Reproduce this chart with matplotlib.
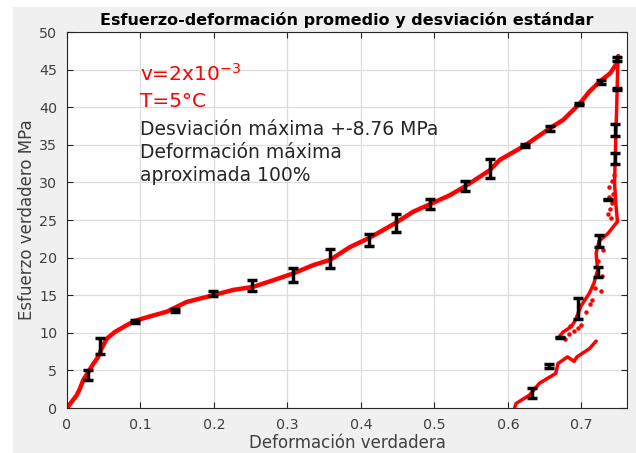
import matplotlib
matplotlib.use('Agg')
import matplotlib.pyplot as plt
from matplotlib.patches import Rectangle

plt.rcParams['font.family'] = ['DejaVu Sans']
plt.rcParams['mathtext.default'] = 'regular'

# curva promedio de carga
carga_x = [0.0, 0.0132, 0.0177, 0.022, 0.029, 0.036, 0.0425, 0.047, 0.054, 0.065,
           0.081, 0.0925, 0.11, 0.1355, 0.1627, 0.199, 0.226, 0.253, 0.281, 0.308,
           0.335, 0.358, 0.385, 0.411, 0.447, 0.471, 0.494, 0.521, 0.542, 0.575,
           0.589, 0.623, 0.657, 0.675, 0.697, 0.711, 0.726, 0.739, 0.748, 0.750]
carga_y = [0.0, 1.7, 2.6, 3.7, 4.8, 5.9, 6.8, 7.9, 9.2, 10.1,
           11.0, 11.6, 12.1, 12.8, 14.1, 15.0, 15.7, 16.1, 17.0, 17.9,
           19.0, 19.7, 21.4, 22.6, 24.6, 26.1, 27.1, 28.3, 29.5, 31.6,
           33.0, 34.9, 37.2, 38.3, 40.4, 42.1, 43.5, 44.5, 45.8, 46.8]

# descarga, primer tramo
desc_x = [0.750, 0.749, 0.748, 0.747, 0.746, 0.745, 0.747, 0.749, 0.736, 0.724,
          0.720, 0.722, 0.717, 0.711, 0.699, 0.692, 0.686, 0.675, 0.670]
desc_y = [46.8, 44.0, 40.0, 37.0, 33.2, 30.0, 27.0, 24.8, 23.2, 22.2,
          20.6, 18.3, 16.6, 15.3, 13.5, 11.7, 10.8, 10.1, 9.5]

# descarga, segundo tramo
desc2_x = [0.720, 0.711, 0.694, 0.690, 0.681, 0.668, 0.665, 0.643, 0.629, 0.611, 0.609]
desc2_y = [8.9, 7.9, 6.8, 6.2, 6.8, 5.9, 4.6, 3.3, 1.7, 0.6, 0.0]

# puntos dispersos
disp_x = [0.736, 0.739, 0.741, 0.743, 0.738, 0.742, 0.744, 0.737, 0.740,
          0.728, 0.726, 0.715, 0.718, 0.712, 0.706, 0.700, 0.696, 0.694,
          0.690, 0.683, 0.678, 0.684, 0.722, 0.729]
disp_y = [25.8, 26.5, 27.3, 28.5, 29.4, 30.2, 31.0, 28.0, 25.2,
          17.5, 15.6, 14.4, 16.0, 13.8, 12.8, 11.0, 10.6, 12.3,
          10.2, 9.8, 9.2, 10.9, 19.5, 21.0]

# barras de error
eb_x = [0.029, 0.045, 0.0925, 0.147, 0.199, 0.252, 0.307, 0.358, 0.411, 0.447,
        0.494, 0.542, 0.575, 0.623, 0.657, 0.697, 0.726, 0.749, 0.748, 0.746,
        0.746, 0.736, 0.724, 0.722, 0.696, 0.671, 0.656, 0.633]
eb_y = [4.4, 8.2, 11.5, 13.0, 15.2, 16.3, 17.7, 19.9, 22.4, 24.6,
        27.1, 29.5, 31.9, 34.9, 37.2, 40.4, 43.4, 46.4, 42.4, 37.0,
        33.2, 27.7, 22.2, 18.1, 13.2, 9.4, 5.6, 1.95]
eb_err = [0.7, 1.05, 0.15, 0.2, 0.3, 0.75, 0.95, 1.3, 0.8, 1.15,
          0.7, 0.65, 1.25, 0.2, 0.3, 0.15, 0.25, 0.3, 0.1, 0.8,
          0.7, 0.1, 0.8, 0.7, 1.4, 0.1, 0.3, 0.65]

fig = plt.figure(figsize=(6.36, 4.53), dpi=100, facecolor='white')
fondo = Rectangle((13 / 636, 0), 1, 446 / 453, transform=fig.transFigure,
                  facecolor='#f0f0f0', edgecolor='none', zorder=-10)
fig.add_artist(fondo)

ax = fig.add_axes([67 / 636, 45 / 453, 560 / 636, 376 / 453])
ax.set_facecolor('white')

ax.plot(carga_x, carga_y, color='red', lw=3.2, solid_capstyle='round', zorder=2)
ax.plot(desc_x, desc_y, color='red', lw=2.5, solid_capstyle='round', zorder=2)
ax.plot(desc2_x, desc2_y, color='red', lw=2.5, solid_capstyle='round', zorder=2)
ax.scatter(disp_x, disp_y, s=5, color='red', zorder=2)
ax.errorbar(eb_x, eb_y, yerr=eb_err, fmt='none', ecolor='black',
            elinewidth=2.5, capsize=3.5, capthick=2.5, zorder=3)

ax.set_xlim(0, 0.762)
ax.set_ylim(0, 50)
ax.set_xticks([0, 0.1, 0.2, 0.3, 0.4, 0.5, 0.6, 0.7])
ax.set_xticklabels(['0', '0.1', '0.2', '0.3', '0.4', '0.5', '0.6', '0.7'])
ax.set_yticks(range(0, 51, 5))
ax.grid(True, color='#dcdcdc', lw=0.9)
ax.set_axisbelow(True)
ax.tick_params(direction='in', length=4, width=0.8, color='#262626',
               labelcolor='#404040', labelsize=10.3, top=True, right=True, pad=7)
for s in ax.spines.values():
    s.set_color('#262626')
    s.set_linewidth(0.8)

ax.set_title('Esfuerzo-deformación promedio y desviación estándar',
             fontsize=11.5, fontweight='bold', color='black', pad=5)
ax.set_xlabel('Deformación verdadera', fontsize=12, color='#404040', labelpad=2)
ax.set_ylabel('Esfuerzo verdadero MPa', fontsize=12, color='#404040', labelpad=2)

ax.text(0.1, 43.5, 'v=2x10$^{-3}$', color='red', fontsize=14.5)
ax.text(0.1, 40.0, 'T=5°C', color='red', fontsize=14.5)
ax.text(0.1, 36.3, 'Desviación máxima +-8.76 MPa', color='#262626', fontsize=13.5)
ax.text(0.1, 33.2, 'Deformación máxima', color='#262626', fontsize=13.5)
ax.text(0.1, 30.2, 'aproximada 100%', color='#262626', fontsize=13.5)

fig.savefig('out.png', dpi=100)
